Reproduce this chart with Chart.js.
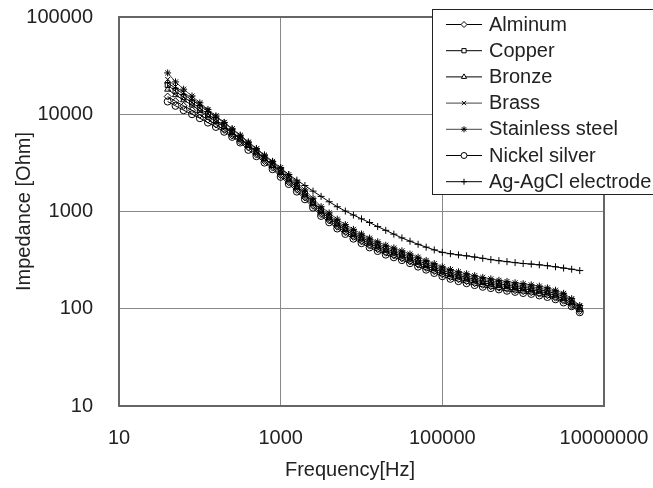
<!DOCTYPE html>
<html><head><meta charset="utf-8">
<script src="https://cdn.jsdelivr.net/npm/chart.js@4/dist/chart.umd.min.js"></script>
<style>html,body{margin:0;padding:0;background:#fff;overflow:hidden}#wrap{width:653px;height:488px}</style>
</head><body><div id="wrap"><canvas id="c" width="653" height="488"></canvas></div>
<script>
// ---------- data ----------
const frequencies = [40,50,63,80,100,126,158,200,251,316,398,501,631,794,
  1000,1259,1585,1995,2512,3162,3981,5012,6310,7943,
  10000,12589,15849,19953,25119,31623,39811,50119,63096,79433,
  100000,125893,158489,199526,251189,316228,398107,501187,630957,794328,
  1000000,1258925,1584893,1995262,2511886,3162278,3981072,5011872];

const xTickValues = [10, 1000, 100000, 10000000];
const yTickValues = [10, 100, 1000, 10000, 100000];
const xAxisTitle = 'Frequency[Hz]';
const yAxisTitle = 'Impedance [Ohm]';

const seriesNames = ["Alminum","Copper","Bronze","Brass","Stainless steel","Nickel silver","Ag-AgCl electrode"];

const alminum = [15200,13600,12200,11000,9900,8800,7840,6900,6050,5260,4560,3850,3300,2830,
  2370,2000,1675,1395,1145,940,809,698,614,549,
  493,446,409,377,353,330,307,284,263,244,
  226,212,201,192,183,176,170,165,160,155,
  152,148,143,138,130,121,110,95];
const copper = [20000,17200,15000,13200,11500,10000,8750,7600,6580,5650,4840,4130,3520,3010,
  2600,2190,1835,1530,1255,1030,887,765,673,602,
  541,490,449,413,388,362,337,311,289,267,
  248,233,220,210,201,193,187,181,175,170,
  166,162,157,151,143,133,120,103];
const bronze = [18000,15800,14000,12400,10900,9580,8430,7370,6400,5530,4750,4060,3470,2980,
  2500,2105,1765,1470,1205,990,853,735,647,578,
  519,470,431,397,372,348,323,299,277,257,
  238,223,212,202,193,185,179,173,169,164,
  160,156,151,145,137,127,115,98];
const brass = [22800,19300,16700,14600,12700,11000,9550,8250,7100,6070,5180,4400,3740,3190,
  2700,2280,1910,1590,1305,1070,922,795,700,625,
  562,509,466,429,403,376,350,323,300,278,
  258,242,229,218,209,200,194,188,182,177,
  173,169,163,157,148,138,124,106];
const stainless = [26600,21500,18100,15400,13100,11200,9630,8250,7020,5990,5090,4400,3800,3280,
  2830,2390,2000,1665,1365,1120,966,833,733,655,
  588,533,488,450,422,394,366,339,314,291,
  270,253,240,229,219,210,203,196,191,185,
  181,176,171,164,155,144,127,108];
const nickelSilver = [13500,12200,11000,10000,9100,8200,7400,6600,5850,5120,4300,3700,3180,2720,
  2270,1915,1600,1335,1095,900,774,668,587,525,
  472,427,392,360,338,316,294,271,252,233,
  216,203,192,183,175,168,163,158,153,149,
  145,142,137,132,125,116,106,92];
const agAgCl = [21000,18500,16000,14000,12300,10700,9400,8200,7100,6100,5200,4450,3800,3250,
  2750,2400,2100,1850,1620,1430,1260,1120,1010,920,
  840,770,700,640,585,535,495,460,430,403,
  380,368,358,350,340,330,320,312,305,298,
  292,288,283,277,270,262,255,247];

const seriesValues = [alminum, copper, bronze, brass, stainless, nickelSilver, agAgCl];
const pointStyles = ['rectRot','rect','triangle','crossRot','star','circle','cross'];
const lineColors = ['#000','#000','#000','#444','#444','#000','#000'];

const FONT = "'Liberation Sans', Arial, sans-serif";
const TEXT = '#222';

const datasets = seriesNames.map((name, k) => ({
  label: name,
  data: frequencies.map((f, i) => ({x: f, y: seriesValues[k][i]})),
  borderColor: lineColors[k],
  borderWidth: 1,
  pointStyle: pointStyles[k],
  pointRadius: 3.5,
  pointBorderWidth: 1,
  pointBorderColor: '#000',
  pointBackgroundColor: 'rgba(255,255,255,0)',
  fill: false,
  tension: 0
}));

const framePlugin = {
  id: 'frame',
  beforeDatasetsDraw(chart) {
    const {ctx, chartArea: a} = chart;
    ctx.save();
    ctx.strokeStyle = '#666';
    ctx.lineWidth = 2;
    ctx.strokeRect(a.left, a.top, a.right - a.left, a.bottom - a.top);
    ctx.restore();
  },
  afterDraw(chart) {
    const ctx = chart.ctx;
    ctx.save();
    // x axis title (slightly left of the plot centre, as in the reference)
    ctx.font = "20px " + FONT;
    ctx.fillStyle = TEXT;
    ctx.textAlign = 'center';
    ctx.textBaseline = 'middle';
    ctx.fillText(xAxisTitle, 350, 470);
    // legend
    ctx.fillStyle = '#fff';
    ctx.fillRect(432, 9, 230, 185);
    ctx.strokeStyle = '#222';
    ctx.lineWidth = 1;
    ctx.strokeRect(432.5, 9.5, 230, 185);
    ctx.textAlign = 'left';
    chart.data.datasets.forEach((ds, i) => {
      const y = 24 + i * 26.2;
      ctx.strokeStyle = ds.borderColor;
      ctx.lineWidth = 1;
      ctx.beginPath();
      ctx.moveTo(446, y + 0.5);
      ctx.lineTo(482, y + 0.5);
      ctx.stroke();
      ctx.strokeStyle = '#000';
      ctx.fillStyle = 'rgba(255,255,255,1)';
      Chart.helpers.drawPoint(ctx, {pointStyle: ds.pointStyle, radius: 3, rotation: 0, borderWidth: 1}, 464, y + 0.5);
      ctx.fillStyle = TEXT;
      ctx.fillText(ds.label, 489, y + 1);
    });
    ctx.restore();
  }
};

new Chart(document.getElementById('c'), {
  type: 'line',
  data: {datasets},
  options: {
    responsive: false,
    animation: false,
    devicePixelRatio: 1,
    layout: {padding: {top: 17, right: 49, left: 0, bottom: 0}},
    plugins: {legend: {display: false}, tooltip: {enabled: false}},
    scales: {
      x: {
        type: 'logarithmic', position: 'bottom', min: 10, max: 10000000,
        afterBuildTicks: s => { s.ticks = xTickValues.map(v => ({value: v})); },
        afterFit: s => { s.height = 82; },
        ticks: {callback: v => String(v), autoSkip: false, maxRotation: 0, minRotation: 0,
          padding: 0, color: TEXT, font: {family: FONT, size: 20}},
        grid: {color: '#888', lineWidth: 1, drawTicks: true, tickLength: 20, tickColor: 'rgba(0,0,0,0)'},
        border: {display: true, color: '#666', width: 2},
        title: {display: false}
      },
      y: {
        type: 'logarithmic', position: 'left', min: 10, max: 100000,
        afterBuildTicks: s => { s.ticks = yTickValues.map(v => ({value: v})); },
        afterFit: s => { s.width = 119; },
        ticks: {callback: v => String(v), autoSkip: false, padding: 0, color: TEXT,
          font: {family: FONT, size: 20}},
        grid: {color: '#888', lineWidth: 1, drawTicks: true, tickLength: 26, tickColor: 'rgba(0,0,0,0)'},
        border: {display: true, color: '#666', width: 2},
        title: {display: true, text: yAxisTitle, color: TEXT,
          font: {family: FONT, size: 20}, padding: {top: 12, bottom: 0}}
      }
    }
  },
  plugins: [framePlugin]
});
</script>
</body></html>
